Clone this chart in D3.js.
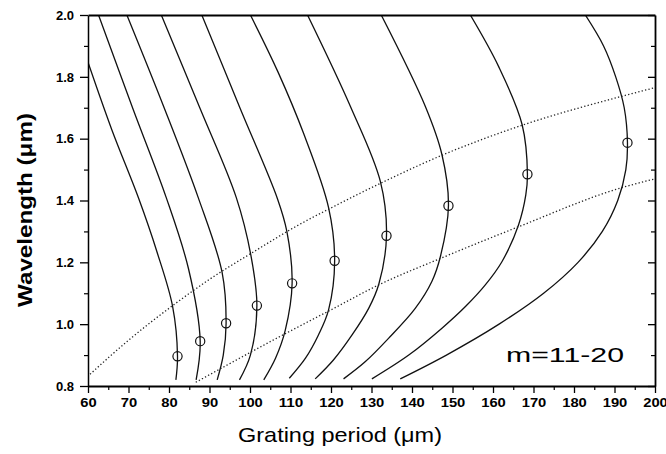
<!DOCTYPE html>
<html>
<head>
<meta charset="utf-8">
<script src="https://cdn.jsdelivr.net/npm/d3@7"></script>
<style>
  html, body { margin: 0; padding: 0; background: #fff; }
  svg { display: block; }
  text { font-family: "Liberation Sans", Arial, sans-serif; fill: #000; }
</style>
</head>
<body>
<svg id="chart" width="666" height="454"></svg>
<script>
// ---------- data (wavelength in µm, grating period in µm) ----------
const xTicks = [60, 70, 80, 90, 100, 110, 120, 130, 140, 150, 160, 170, 180, 190, 200];
const yTicks = [0.8, 1.0, 1.2, 1.4, 1.6, 1.8, 2.0];
const xMinorTicks = [65, 75, 85, 95, 105, 115, 125, 135, 145, 155, 165, 175, 185, 195];
const yMinorTicks = [0.9, 1.1, 1.3, 1.5, 1.7, 1.9];

// each curve: [wavelength, period]
const mode20 = [[0.82, 81.7], [0.896, 82.1], [1.057, 80.9], [1.235, 77.0], [1.407, 72.5], [1.628, 65.9], [1.847, 60.0]];
const mode19 = [[0.82, 86.7], [0.946, 87.7], [1.18, 84.8], [1.41, 79.3], [1.70, 71.0], [2.0, 62.6]];
const mode18 = [[0.82, 91.9], [0.90, 93.4], [1.003, 94.1], [1.168, 93.1], [1.41, 87.2], [1.70, 78.8], [2.0, 69.6]];
const mode17 = [[0.82, 97.4], [0.90, 100.1], [1.06, 101.7], [1.224, 100.2], [1.41, 96.6], [1.70, 87.6], [2.0, 78.1]];
const mode16 = [[0.82, 103.4], [0.89, 106.3], [0.98, 108.7], [1.132, 110.4], [1.30, 109.1], [1.405, 106.8], [1.70, 97.5], [2.0, 88.1]];
const mode15 = [[0.825, 109.7], [0.89, 113.7], [0.965, 116.9], [1.046, 119.4], [1.205, 120.9], [1.377, 119.4], [1.618, 113.2], [1.816, 106.9], [2.0, 100.1]];
const mode14 = [[0.823, 116.1], [0.884, 120.6], [0.965, 125.2], [1.051, 129.3], [1.129, 131.8], [1.286, 133.7], [1.461, 132.2], [1.704, 124.8], [2.0, 114.2]];
const mode13 = [[0.823, 123.1], [0.879, 128.5], [0.954, 134.2], [1.051, 140.8], [1.138, 144.9], [1.218, 147.0], [1.383, 149.0], [1.548, 147.4], [1.704, 143.3], [2.0, 132.4]];
const mode12 = [[0.823, 130.1], [0.90, 139.2], [0.987, 147.4], [1.057, 153.2], [1.127, 158.1], [1.202, 162.2], [1.321, 166.3], [1.418, 168.1], [1.485, 168.5], [1.645, 167.2], [1.833, 161.4], [2.0, 154.4]];
const mode11 = [[0.823, 137.1], [0.9, 148.5], [1.0, 161.5], [1.1, 172.5], [1.2, 181.0], [1.3, 187.0], [1.4, 190.8], [1.5, 192.8], [1.587, 193.2], [1.7, 192.4], [1.8, 190.3], [1.9, 187.3], [2.0, 182.8]];

// turning points (circles)
const turnPeriod = [82.1, 87.7, 94.1, 101.7, 110.4, 120.9, 133.7, 149.0, 168.5, 193.2];
const turnWavelength = [0.896, 0.945, 1.003, 1.06, 1.132, 1.205, 1.286, 1.383, 1.485, 1.587];

// dotted lines: [period, wavelength]
const upperDotted = [[60.5, 0.838], [70, 0.948], [81, 1.061], [90, 1.145], [100.9, 1.234], [111.6, 1.318], [120.6, 1.38], [132.1, 1.455], [147.7, 1.548], [167.1, 1.643], [191.5, 1.736], [200, 1.765]];
const lowerDotted = [[86.6, 0.812], [109.1, 0.972], [119.8, 1.045], [132.1, 1.129], [146.9, 1.212], [166.3, 1.315], [191.4, 1.44], [200, 1.47]];

const annotation = "m=11-20";
const xLabel = "Grating period (\u03bcm)";
const yLabel = "Wavelength (\u03bcm)";

// ---------- layout ----------
const svg = d3.select("#chart");
const L = 88, R = 655, T = 15, B = 386;
const x = d3.scaleLinear().domain([60, 200]).range([L, R]);
const y = d3.scaleLinear().domain([0.8, 2.0]).range([B, T]);

svg.append("defs").append("clipPath").attr("id", "clip")
  .append("rect").attr("x", L).attr("y", T).attr("width", R - L).attr("height", B - T);

const plot = svg.append("g").attr("clip-path", "url(#clip)");

// curves
const curves = [mode20, mode19, mode18, mode17, mode16, mode15, mode14, mode13, mode12, mode11];
const curveLine = d3.line()
  .x(d => x(d[1])).y(d => y(d[0]))
  .curve(d3.curveCatmullRom.alpha(0.5));
plot.selectAll("path.mode").data(curves).join("path")
  .attr("class", "mode")
  .attr("d", curveLine)
  .attr("fill", "none").attr("stroke", "#111").attr("stroke-width", 1.3);

// dotted lines
const dotLine = d3.line().x(d => x(d[0])).y(d => y(d[1])).curve(d3.curveMonotoneX);
plot.selectAll("path.dotted").data([upperDotted, lowerDotted]).join("path")
  .attr("class", "dotted")
  .attr("d", dotLine)
  .attr("fill", "none").attr("stroke", "#222").attr("stroke-width", 1.3)
  .attr("stroke-dasharray", "1.3,2.2");

// circles
plot.selectAll("circle.turn").data(turnPeriod).join("circle")
  .attr("class", "turn")
  .attr("cx", d => x(d)).attr("cy", (d, i) => y(turnWavelength[i]))
  .attr("r", 4.6)
  .attr("fill", "none").attr("stroke", "#111").attr("stroke-width", 1.2);

// ---------- axes ----------
function styleAxis(g, w) {
  g.select(".domain").attr("stroke", "#000").attr("stroke-width", w);
  g.selectAll(".tick line").attr("stroke", "#000").attr("stroke-width", 1.3);
}
// bottom
const gxMinor = svg.append("g").attr("transform", `translate(0,${B})`)
  .call(d3.axisBottom(x).tickValues(xMinorTicks).tickSize(4).tickFormat(""));
gxMinor.select(".domain").remove();
gxMinor.selectAll(".tick line").attr("stroke", "#000").attr("stroke-width", 1.2);
const gx = svg.append("g").attr("transform", `translate(0,${B})`)
  .call(d3.axisBottom(x).tickValues(xTicks).tickSize(7).tickSizeOuter(0).tickPadding(5).tickFormat(d3.format("d")));
styleAxis(gx, 2);
gx.selectAll(".tick text")
  .attr("font-size", 13).attr("font-weight", "bold")
  .attr("textLength", d => String(d).length * 8.2).attr("lengthAdjust", "spacingAndGlyphs")
  .attr("x", d => -String(d).length * 4.1).attr("text-anchor", "start");

// left
const gyMinor = svg.append("g").attr("transform", `translate(${L},0)`)
  .call(d3.axisLeft(y).tickValues(yMinorTicks).tickSize(4).tickFormat(""));
gyMinor.select(".domain").remove();
gyMinor.selectAll(".tick line").attr("stroke", "#000").attr("stroke-width", 1.2);
const gy = svg.append("g").attr("transform", `translate(${L},0)`)
  .call(d3.axisLeft(y).tickValues(yTicks).tickSize(8).tickSizeOuter(0).tickPadding(6).tickFormat(d3.format(".1f")));
styleAxis(gy, 1.5);
gy.selectAll(".tick text").attr("font-size", 13).attr("font-weight", "bold");

// right (ticks inward)
const grMinor = svg.append("g").attr("transform", `translate(${R},0)`)
  .call(d3.axisLeft(y).tickValues(yMinorTicks).tickSize(4).tickFormat(""));
grMinor.select(".domain").remove();
grMinor.selectAll(".tick line").attr("stroke", "#000").attr("stroke-width", 1.2);
const gr = svg.append("g").attr("transform", `translate(${R},0)`)
  .call(d3.axisLeft(y).tickValues(yTicks).tickSize(7).tickSizeOuter(0).tickFormat(""));
styleAxis(gr, 1.8);

// top (line only)
const gt = svg.append("g").attr("transform", `translate(0,${T})`)
  .call(d3.axisTop(x).tickValues([]).tickSizeOuter(0));
styleAxis(gt, 2.2);

// ---------- labels ----------
svg.append("text")
  .attr("x", 340).attr("y", 442)
  .attr("text-anchor", "middle")
  .attr("font-size", 21)
  .attr("textLength", 204).attr("lengthAdjust", "spacingAndGlyphs")
  .text(xLabel);

svg.append("text")
  .attr("transform", "translate(32,210) rotate(-90)")
  .attr("text-anchor", "middle")
  .attr("font-size", 21).attr("font-weight", "bold")
  .attr("textLength", 194).attr("lengthAdjust", "spacingAndGlyphs")
  .text(yLabel);

svg.append("text")
  .attr("x", 506).attr("y", 362)
  .attr("font-size", 21)
  .attr("textLength", 118).attr("lengthAdjust", "spacingAndGlyphs")
  .text(annotation);
</script>
</body>
</html>
